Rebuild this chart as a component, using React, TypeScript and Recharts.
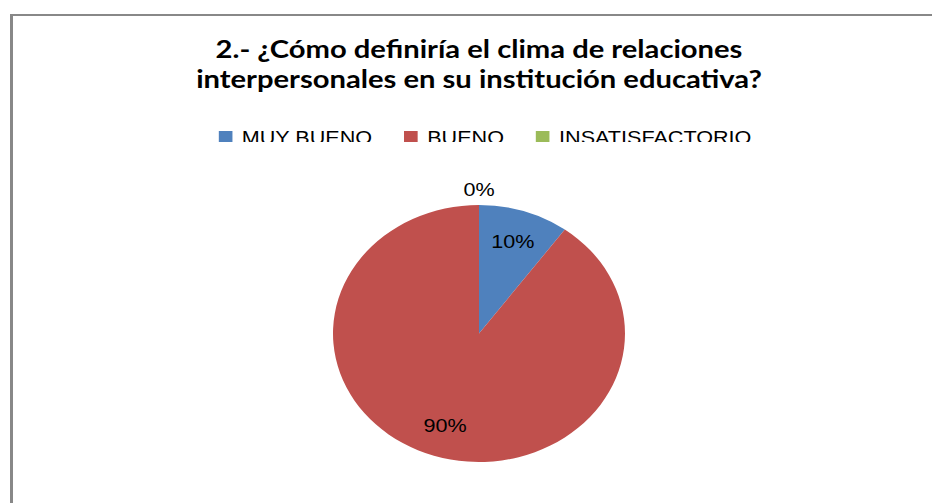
import type { ReactElement } from "react";
import { Cell, Legend, Pie, PieChart } from "recharts";

const TITLE_LINES = [
  "2.- ¿Cómo definiría el clima de relaciones",
  "interpersonales en su institución educativa?",
];
const CATEGORIES = ["MUY BUENO", "BUENO", "INSATISFACTORIO"];
const VALUES = [10, 90, 0];
const COLORS = ["#4F81BD", "#C0504D", "#9BBB59"];

const data = CATEGORIES.map((name, i) => ({ name, value: VALUES[i] }));

// the source picture is stretched sideways, so the pie is an ellipse
const STRETCH = 146 / 128.5;
const TITLE_STRETCH = 1.19;
const CHART_W = 820;
const CHART_H = 503;
const RADIAN = Math.PI / 180;

function renderLabel(props: any): ReactElement {
  const { cx, cy, midAngle, outerRadius, percent, index } = props;
  const r = percent === 0 ? outerRadius + 16 : outerRadius * 0.75;
  const x = cx + r * Math.cos(-midAngle * RADIAN);
  const y = cy + r * Math.sin(-midAngle * RADIAN);
  return (
    <text
      key={`lbl-${index}`}
      x={x}
      y={y}
      textAnchor="middle"
      dominantBaseline="central"
      fill="#000"
      fontSize={19}
      fontFamily="'Liberation Sans', Arial, sans-serif"
    >
      {`${Math.round(percent * 100)}%`}
    </text>
  );
}

function LegendContent(props: any): ReactElement {
  const raw: any[] = props.payload && props.payload.length
    ? props.payload
    : CATEGORIES.map((c, i) => ({ value: c, color: COLORS[i] }));
  // keep the data order, not the alphabetical one
  const payload = [...raw].sort(
    (a, b) => CATEGORIES.indexOf(a.value) - CATEGORIES.indexOf(b.value),
  );
  return (
    <div style={{ position: "relative", left: 5.3, display: "flex", justifyContent: "center", gap: 28.2 }}>
      {payload.map((entry) => (
        <div key={entry.value} style={{ display: "flex", alignItems: "flex-start" }}>
          <span
            style={{
              display: "inline-block",
              width: 12.3,
              height: 12,
              marginTop: 4,
              marginRight: 8,
              backgroundColor: COLORS[CATEGORIES.indexOf(entry.value)] ?? entry.color,
            }}
          />
          <span style={{ fontSize: 19, lineHeight: "22px", color: "#000" }}>{entry.value}</span>
        </div>
      ))}
    </div>
  );
}

export default function App(): ReactElement {
  return (
    <div
      style={{
        position: "absolute",
        left: 0,
        top: 0,
        width: 932,
        height: 503,
        overflow: "hidden",
        background: "#fff",
        fontFamily: "'Liberation Sans', Arial, sans-serif",
      }}
    >
      <div
        style={{
          position: "absolute",
          left: 10,
          top: 14,
          width: 960,
          height: 520,
          borderLeft: "3px solid #888888",
          borderTop: "2px solid #888888",
        }}
      />
      <div
        style={{
          position: "absolute",
          left: 0,
          top: 33.5,
          width: 958,
          textAlign: "center",
          fontFamily: "Lato, sans-serif",
          fontWeight: 700,
          fontSize: 24.5,
          lineHeight: "30.6px",
          color: "#000",
          transform: `scaleX(${TITLE_STRETCH})`,
          transformOrigin: "50% 50%",
        }}
      >
        {TITLE_LINES.map((line) => (
          <div key={line}>{line}</div>
        ))}
      </div>
      <div
        style={{
          position: "absolute",
          left: 479 - CHART_W / 2,
          top: 0,
          width: CHART_W,
          height: CHART_H,
          transform: `scaleX(${STRETCH})`,
          transformOrigin: "50% 50%",
        }}
      >
        <PieChart width={CHART_W} height={CHART_H} margin={{ top: 0, right: 0, bottom: 0, left: 0 }}>
          <Legend
            layout="horizontal"
            verticalAlign="middle"
            align="center"
            content={LegendContent}
            wrapperStyle={{ top: 127, left: 0, width: CHART_W, height: 15, overflow: "hidden" }}
          />
          <Pie
            data={data}
            dataKey="value"
            nameKey="name"
            cx={CHART_W / 2}
            cy={333.5}
            outerRadius={128.5}
            startAngle={90}
            endAngle={-270}
            stroke="none"
            label={renderLabel}
            labelLine={false}
            isAnimationActive={false}
          >
            {data.map((d, i) => (
              <Cell key={d.name} fill={COLORS[i]} />
            ))}
          </Pie>
        </PieChart>
      </div>
    </div>
  );
}
